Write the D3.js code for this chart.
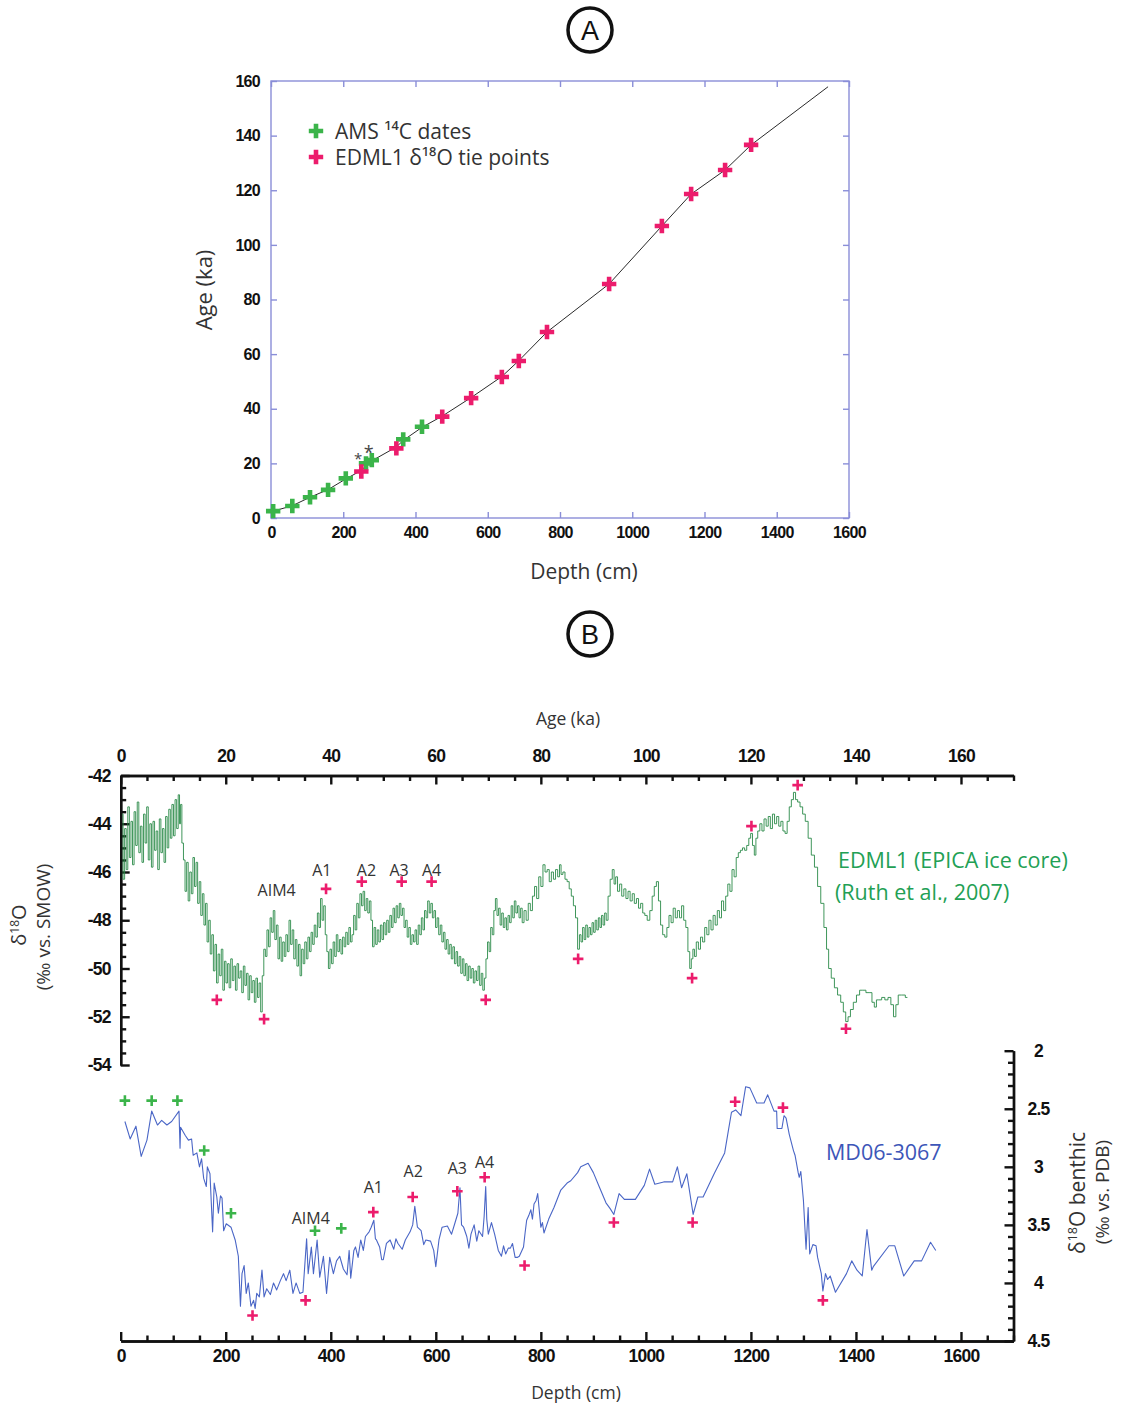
<!DOCTYPE html>
<html>
<head>
<meta charset="utf-8">
<script src="https://cdn.jsdelivr.net/npm/d3@7"></script>
<style>
  body { margin: 0; background: #fff; }
  svg { display: block; }
</style>
</head>
<body>
<svg id="chart" width="1122" height="1406"></svg>
<script>
// ---------------- Panel A: age-depth model ----------------
// AMS 14C dated levels (depth cm, age ka)
const amsDepth = [6, 59, 108, 158, 207, 263, 279, 366, 418];
const amsAge   = [2.5, 4.4, 7.6, 10.3, 14.5, 20.0, 21.2, 28.8, 33.4];
// AMS dates flagged with an asterisk
const flaggedDepth = [263, 279];
// EDML1 d18O tie points (depth cm, age ka)
const tieDepth = [250, 347, 474, 554, 639, 686, 764, 936, 1082, 1163, 1257, 1329];
const tieAge   = [17.0, 25.5, 37.1, 43.9, 51.6, 57.5, 68.1, 85.7, 106.9, 118.6, 127.4, 136.6];
// age model curve
const modelDepth = [6, 59, 108, 158, 207, 250, 272, 347, 366, 418, 474, 554, 639, 686, 764, 936, 1082, 1163, 1257, 1329, 1542];
const modelAge   = [2.5, 4.5, 7.6, 10.4, 14.3, 17.4, 20.4, 26.0, 28.4, 33.2, 37.3, 44.1, 51.8, 57.6, 68.1, 85.7, 106.9, 118.6, 127.4, 136.6, 157.9];
const ageTicksA   = [0, 20, 40, 60, 80, 100, 120, 140, 160];
const depthTicksA = [0, 200, 400, 600, 800, 1000, 1200, 1400, 1600];
const legendLabels = ["AMS \u00B9\u2074C dates", "EDML1 \u03B4\u00B9\u2078O tie points"];

// ---------------- Panel B: isotope records ----------------
// EDML1 ice core d18O (age ka, permil vs SMOW)
const edmlSeries = [
[0.3,-43.6],[0.6,-46.3],[0.9,-44.2],[1.2,-45.9],[1.5,-43.3],[1.8,-45.4],[2.1,-43.9],[2.4,-45.7],[2.7,-43.5],[3.0,-44.9],
[3.3,-43.1],[3.6,-45.2],[3.9,-44.1],[4.2,-45.6],[4.5,-43.6],[4.8,-44.8],[5.1,-43.3],[5.4,-45.5],[5.7,-44.0],[6.0,-45.8],
[6.3,-43.9],[6.6,-45.1],[6.9,-44.3],[7.2,-45.9],[7.5,-43.8],[7.8,-45.2],[8.1,-44.2],[8.4,-45.6],[8.7,-43.7],[9.0,-45.0],
[9.3,-43.4],[9.6,-44.6],[9.9,-43.2],[10.2,-44.5],[10.5,-43.0],[10.8,-44.2],[11.1,-42.8],[11.3,-44.0],[11.5,-43.2],[11.8,-44.8],
[12.1,-45.5],[12.4,-46.8],[12.7,-45.6],[13.0,-47.2],[13.3,-46.0],[13.6,-46.9],[13.9,-45.4],[14.2,-46.6],[14.5,-45.6],[14.8,-47.3],
[15.1,-46.4],[15.4,-47.8],[15.7,-46.9],[16.0,-48.2],[16.3,-47.3],[16.6,-48.9],[16.9,-48.0],[17.2,-49.4],[17.5,-48.6],[17.8,-50.1],
[18.1,-49.0],[18.4,-50.6],[18.7,-49.4],[19.0,-50.3],[19.3,-49.2],[19.6,-50.9],[19.9,-49.7],[20.2,-50.6],[20.5,-49.8],[20.8,-50.8],
[21.1,-49.6],[21.4,-50.5],[21.7,-49.9],[22.0,-50.9],[22.3,-49.8],[22.6,-50.4],[22.9,-50.1],[23.2,-51.0],[23.5,-49.9],[23.8,-50.7],
[24.1,-50.2],[24.4,-51.3],[24.7,-50.3],[25.0,-51.0],[25.3,-50.5],[25.6,-51.4],[25.9,-50.4],[26.2,-51.2],[26.5,-50.6],[26.8,-51.8],
[27.1,-50.3],[27.4,-49.2],[27.7,-49.5],[28.0,-48.4],[28.3,-49.1],[28.6,-47.9],[28.9,-48.5],[29.2,-47.6],[29.5,-48.8],[29.8,-48.2],
[30.1,-49.6],[30.4,-48.7],[30.7,-49.7],[31.0,-48.9],[31.3,-49.5],[31.6,-48.6],[31.9,-49.3],[32.2,-48.0],[32.5,-49.0],[32.8,-48.4],
[33.1,-49.6],[33.4,-48.8],[33.7,-49.9],[34.0,-49.0],[34.3,-50.3],[34.6,-49.2],[34.9,-49.8],[35.2,-48.9],[35.5,-49.6],[35.8,-48.7],
[36.1,-49.3],[36.4,-48.5],[36.7,-49.0],[37.0,-48.2],[37.3,-48.7],[37.6,-47.7],[37.9,-48.3],[38.2,-47.1],[38.5,-48.0],[38.8,-47.4],
[39.1,-48.6],[39.4,-49.3],[39.7,-50.0],[40.0,-49.2],[40.3,-49.8],[40.6,-48.9],[40.9,-49.5],[41.2,-48.6],[41.5,-49.3],[41.8,-48.8],
[42.1,-49.4],[42.4,-48.7],[42.7,-49.1],[43.0,-48.5],[43.3,-49.0],[43.6,-48.3],[43.9,-48.9],[44.2,-48.6],[44.5,-47.8],[44.8,-48.4],
[45.1,-47.3],[45.4,-47.9],[45.7,-46.9],[46.0,-47.4],[46.3,-46.8],[46.6,-47.6],[46.9,-47.1],[47.2,-47.7],[47.5,-47.2],[47.8,-48.0],
[48.1,-49.1],[48.4,-48.3],[48.7,-49.0],[49.0,-48.4],[49.3,-48.9],[49.6,-48.2],[49.9,-48.8],[50.2,-48.1],[50.5,-48.6],[50.8,-48.0],
[51.1,-48.5],[51.4,-47.8],[51.7,-48.3],[52.0,-47.5],[52.3,-48.1],[52.6,-47.4],[52.9,-47.9],[53.2,-47.3],[53.5,-47.8],[53.8,-47.5],
[54.1,-48.3],[54.4,-48.0],[54.7,-48.7],[55.0,-48.3],[55.3,-49.0],[55.6,-48.6],[55.9,-48.9],[56.2,-48.4],[56.5,-49.0],[56.8,-48.2],
[57.1,-48.6],[57.4,-47.9],[57.7,-48.4],[58.0,-47.6],[58.3,-47.9],[58.6,-47.2],[58.9,-47.7],[59.2,-47.3],[59.5,-47.9],[59.8,-47.6],
[60.1,-48.3],[60.4,-47.9],[60.7,-48.6],[61.0,-48.2],[61.3,-48.9],[61.6,-48.5],[61.9,-49.2],[62.2,-48.8],[62.5,-49.4],[62.8,-49.0],
[63.1,-49.6],[63.4,-49.1],[63.7,-49.8],[64.0,-49.3],[64.3,-49.9],[64.6,-49.5],[64.9,-50.2],[65.2,-49.6],[65.5,-50.3],[65.8,-49.8],
[66.1,-50.5],[66.4,-49.9],[66.7,-50.4],[67.0,-50.0],[67.3,-50.6],[67.6,-50.1],[67.9,-50.5],[68.2,-49.9],[68.5,-50.7],[68.8,-50.2],
[69.1,-50.9],[69.4,-50.4],[69.7,-49.6],[70.0,-48.9],[70.3,-49.3],[70.6,-48.3],[70.9,-48.6],[71.2,-47.6],[71.5,-47.1],[71.8,-47.8],
[72.1,-47.5],[72.4,-48.2],[72.7,-47.7],[73.0,-48.3],[73.3,-47.9],[73.6,-48.4],[73.9,-47.8],[74.2,-48.1],[74.5,-47.4],[74.8,-47.9],
[75.1,-47.2],[75.4,-47.7],[75.7,-47.4],[76.0,-47.9],[76.3,-47.5],[76.6,-48.1],[77.0,-47.6],[77.4,-48.0],[77.8,-47.3],[78.2,-47.6],
[78.6,-47.0],[79.0,-46.6],[79.4,-47.1],[79.8,-46.2],[80.2,-46.6],[80.6,-45.7],[81.0,-46.0],[81.4,-45.9],[81.8,-46.4],[82.2,-46.0],
[82.6,-46.3],[83.0,-45.9],[83.4,-46.2],[83.7,-45.7],[84.0,-46.1],[84.4,-46.0],[84.8,-46.3],[85.2,-46.4],[85.6,-46.7],[86.0,-47.0],
[86.4,-47.4],[86.8,-47.9],[87.2,-49.2],[87.5,-48.6],[87.8,-48.9],[88.1,-48.3],[88.4,-48.8],[88.7,-48.2],[89.0,-48.7],[89.3,-48.3],
[89.6,-48.6],[89.9,-48.1],[90.2,-48.5],[90.5,-48.0],[90.8,-48.4],[91.1,-47.9],[91.4,-48.3],[91.7,-47.8],[92.0,-48.2],[92.3,-47.7],
[92.6,-48.0],[93.0,-47.0],[93.4,-46.3],[93.8,-45.9],[94.1,-46.5],[94.4,-46.2],[94.8,-46.8],[95.2,-46.5],[95.6,-47.0],[96.0,-46.7],
[96.4,-47.1],[96.8,-46.8],[97.2,-47.2],[97.6,-46.9],[98.0,-47.3],[98.4,-47.1],[98.8,-47.5],[99.2,-47.3],[99.6,-47.7],[100.0,-47.8],
[100.5,-48.0],[101.0,-47.6],[101.4,-47.0],[101.8,-46.6],[102.2,-46.4],[102.6,-47.2],[103.0,-48.2],[103.4,-48.6],[103.8,-48.7],[104.2,-48.3],
[104.6,-47.8],[105.0,-48.1],[105.4,-47.5],[105.8,-47.9],[106.2,-47.6],[106.6,-47.9],[107.0,-47.4],[107.4,-48.0],[107.8,-48.3],[108.2,-49.3],
[108.5,-50.0],[108.8,-49.6],[109.1,-49.2],[109.4,-49.5],[109.8,-48.9],[110.2,-49.2],[110.6,-48.7],[111.0,-48.9],[111.4,-48.3],[111.8,-48.6],
[112.2,-48.0],[112.6,-48.4],[113.0,-47.8],[113.4,-48.2],[113.8,-47.6],[114.2,-47.9],[114.6,-47.2],[115.0,-47.6],[115.4,-47.0],[115.8,-46.5],
[116.2,-46.8],[116.6,-45.9],[117.0,-46.2],[117.4,-45.4],[117.8,-45.2],[118.2,-45.1],[118.6,-45.0],[119.0,-45.1],[119.4,-44.9],[119.8,-44.6],
[120.1,-44.4],[120.5,-44.9],[120.8,-45.3],[121.1,-44.6],[121.5,-44.3],[121.9,-44.0],[122.3,-44.3],[122.7,-43.8],[123.1,-44.1],[123.5,-43.7],
[123.9,-44.2],[124.3,-43.6],[124.7,-44.0],[125.1,-43.7],[125.5,-44.1],[125.9,-43.9],[126.3,-44.3],[126.7,-44.4],[127.1,-43.9],[127.5,-43.3],
[127.9,-43.0],[128.3,-42.7],[128.7,-43.0],[129.1,-43.1],[129.6,-43.3],[130.1,-43.6],[130.6,-43.9],[131.2,-44.6],[131.8,-45.3],[132.4,-45.8],
[133.0,-46.6],[133.6,-47.3],[134.2,-48.3],[134.6,-49.2],[135.0,-50.0],[135.6,-50.4],[136.2,-50.8],[136.8,-51.1],[137.4,-51.4],[137.8,-51.8],
[138.3,-52.2],[138.7,-52.0],[139.2,-51.7],[139.8,-51.4],[140.4,-51.1],[141.0,-50.9],[141.6,-50.9],[142.2,-51.0],[142.8,-51.0],[143.3,-51.4],
[143.7,-51.6],[144.1,-51.3],[144.6,-51.3],[145.2,-51.2],[145.8,-51.3],[146.4,-51.2],[146.9,-51.5],[147.4,-52.0],[147.8,-51.5],[148.3,-51.1],
[149.0,-51.1],[149.8,-51.2]
];
// EDML1 tie points marked on the ice-core record (age ka, d18O)
const edmlTieAge   = [18.3, 27.3, 39.1, 45.9, 53.5, 59.2, 69.5, 87.1, 108.8, 120.1, 128.9, 138.1];
const edmlTieValue = [-51.3, -52.1, -46.7, -46.4, -46.4, -46.4, -51.3, -49.6, -50.4, -44.1, -42.4, -52.5];
// Antarctic isotope maxima labelled on the ice-core record
const eventNames   = ["AIM4", "A1", "A2", "A3", "A4"];
const edmlEventAge = [29.7, 38.3, 46.8, 53.0, 59.2];
const edmlEventValue = [-46.75, -45.9, -45.9, -45.9, -45.9];

// MD06-3067 benthic d18O (depth cm, permil vs PDB)
const mdSeries = [
[8,2.61],[18,2.76],[29,2.65],[39,2.91],[50,2.77],[59,2.52],[70,2.64],[78,2.60],[88,2.64],[97,2.61],
[111,2.52],[113,2.84],[114,2.66],[123,2.73],[129,2.77],[135,2.76],[138,2.90],[145,2.88],[150,3.00],[154,2.93],
[158,3.10],[163,3.17],[165,3.00],[170,3.06],[175,3.56],[178,3.14],[183,3.26],[186,3.40],[190,3.25],[193,3.27],
[196,3.55],[201,3.49],[210,3.52],[218,3.63],[224,3.77],[228,4.20],[231,3.92],[235,3.85],[239,4.09],[243,4.00],
[248,4.20],[253,4.15],[256,4.22],[259,4.09],[264,4.12],[269,3.89],[273,4.12],[278,4.05],[285,4.10],[291,4.00],
[297,4.06],[304,3.98],[310,3.92],[315,3.98],[322,3.89],[328,4.09],[334,4.00],[341,4.09],[347,4.08],[354,3.62],
[357,3.92],[363,3.69],[367,3.92],[374,3.63],[379,3.95],[386,3.77],[392,4.09],[398,3.78],[405,3.92],[411,3.81],
[417,3.77],[424,3.88],[431,3.93],[435,3.72],[438,3.96],[444,3.72],[447,3.69],[452,3.78],[457,3.63],[462,3.72],
[466,3.60],[473,3.56],[477,3.52],[482,3.46],[485,3.62],[487,3.63],[493,3.69],[497,3.80],[500,3.80],[506,3.66],
[513,3.63],[520,3.71],[524,3.62],[528,3.66],[536,3.71],[542,3.63],[551,3.56],[556,3.50],[560,3.34],[565,3.52],
[572,3.55],[577,3.67],[581,3.63],[590,3.64],[596,3.72],[600,3.86],[606,3.63],[612,3.52],[622,3.51],[630,3.58],
[636,3.49],[642,3.40],[646,3.18],[649,3.50],[653,3.52],[659,3.60],[663,3.70],[667,3.58],[673,3.50],[678,3.64],
[682,3.55],[689,3.60],[692,3.43],[695,3.17],[697,3.45],[700,3.58],[706,3.48],[712,3.58],[716,3.66],[719,3.72],
[725,3.77],[729,3.68],[733,3.75],[738,3.70],[742,3.70],[746,3.66],[751,3.78],[755,3.78],[759,3.77],[764,3.72],
[767,3.69],[770,3.57],[773,3.46],[777,3.42],[781,3.37],[784,3.45],[787,3.32],[791,3.29],[794,3.23],[800,3.52],
[803,3.48],[806,3.57],[815,3.45],[825,3.35],[838,3.20],[850,3.14],[857,3.12],[870,3.05],[876,3.00],[890,2.97],
[900,3.05],[911,3.17],[924,3.31],[932,3.36],[939,3.41],[949,3.23],[959,3.28],[980,3.28],[997,3.16],[1007,3.02],
[1017,3.15],[1034,3.13],[1051,3.13],[1060,3.00],[1068,3.18],[1073,3.12],[1078,3.06],[1090,3.41],[1099,3.26],[1109,3.26],
[1130,3.06],[1150,2.88],[1157,2.69],[1163,2.53],[1171,2.51],[1181,2.56],[1190,2.31],[1198,2.32],[1211,2.45],[1225,2.45],
[1232,2.38],[1244,2.52],[1249,2.52],[1250,2.67],[1259,2.67],[1263,2.56],[1267,2.58],[1273,2.72],[1281,2.86],[1284,2.90],
[1290,3.05],[1292,3.09],[1295,3.04],[1300,3.29],[1305,3.71],[1309,3.35],[1312,3.75],[1318,3.67],[1324,3.68],[1327,3.78],
[1334,3.92],[1337,4.07],[1342,3.92],[1346,3.97],[1351,3.94],[1361,4.08],[1382,3.92],[1392,3.81],[1402,3.89],[1412,3.94],
[1421,3.54],[1430,3.89],[1433,3.86],[1463,3.68],[1474,3.68],[1491,3.94],[1511,3.81],[1525,3.81],[1542,3.65],[1552,3.72]
];
// tie points and AMS levels on the sediment record (depth cm, d18O)
const mdTieDepth = [251, 352, 481, 556, 641, 693, 769, 939, 1089, 1170, 1261, 1337];
const mdTieValue = [4.28, 4.15, 3.39, 3.26, 3.21, 3.09, 3.85, 3.48, 3.48, 2.44, 2.49, 4.15];
const mdAmsDepth = [8, 59, 108, 159, 210, 370, 420];
const mdAmsValue = [2.43, 2.43, 2.43, 2.86, 3.40, 3.55, 3.53];
const mdEventDepth = [362, 481, 557, 641, 693];
const mdEventValue = [3.44, 3.17, 3.04, 3.01, 2.96];

const ageTicksB   = [0, 20, 40, 60, 80, 100, 120, 140, 160];
const edmlTicks   = [-54, -52, -50, -48, -46, -44, -42];
const benthicTicks = [2, 2.5, 3, 3.5, 4, 4.5];
const depthTicksB = [0, 200, 400, 600, 800, 1000, 1200, 1400, 1600];

// ---------------- drawing ----------------
const svg = d3.select("#chart");
const numFont = "'Liberation Sans', Arial, Helvetica, sans-serif";
const textFont = "'Open Sans', 'Noto Sans', 'DejaVu Sans', sans-serif";
const GREEN_MARK = "#3bb44a";
const PINK_MARK = "#ec1c6c";
const zip = (a, b) => a.map((v, i) => [v, b[i]]);

function plus(sel, pts, xs, ys, arm, width, color) {
  sel.selectAll(null).data(pts).join("path")
    .attr("d", d => {
      const x = xs(d[0]), y = ys(d[1]);
      return `M${x - arm},${y}H${x + arm}M${x},${y - arm}V${y + arm}`;
    })
    .attr("stroke", color).attr("stroke-width", width).attr("fill", "none");
}

function badge(cx, cy, letter) {
  svg.append("circle").attr("cx", cx).attr("cy", cy).attr("r", 22)
    .attr("fill", "none").attr("stroke", "#111").attr("stroke-width", 3.5);
  svg.append("text").attr("x", cx).attr("y", cy + 9.5).attr("text-anchor", "middle")
    .attr("font-family", numFont).attr("font-size", 27).attr("fill", "#111").text(letter);
}

function styleAxis(g, color, width, size, letterSpacing) {
  g.attr("font-family", numFont).attr("font-size", size).attr("font-weight", "bold");
  g.select(".domain").attr("stroke", color).attr("stroke-width", width);
  g.selectAll(".tick line").attr("stroke", color).attr("stroke-width", width);
  g.selectAll(".tick text").attr("fill", "#111").attr("letter-spacing", letterSpacing);
}

badge(590, 30, "A");
badge(590, 634, "B");

// ---- Panel A ----
const xA = d3.scaleLinear().domain([0, 1600]).range([271, 849]);
const yA = d3.scaleLinear().domain([0, 160]).range([518, 81]);
const frameA = "#8a8ed8";

svg.append("rect").attr("x", xA(0)).attr("y", yA(160))
  .attr("width", xA(1600) - xA(0)).attr("height", yA(0) - yA(160))
  .attr("fill", "none").attr("stroke", frameA).attr("stroke-width", 1.4);

const axA = [
  svg.append("g").attr("transform", `translate(0,${yA(0)})`)
    .call(d3.axisBottom(xA).tickValues(depthTicksA).tickSize(-6).tickSizeOuter(0).tickPadding(9).tickFormat(d => d)),
  svg.append("g").attr("transform", `translate(${xA(0)},0)`)
    .call(d3.axisLeft(yA).tickValues(ageTicksA).tickSize(-6).tickSizeOuter(0).tickPadding(11).tickFormat(d => d)),
  svg.append("g").attr("transform", `translate(0,${yA(160)})`)
    .call(d3.axisTop(xA).tickValues(depthTicksA).tickSize(-6).tickSizeOuter(0).tickFormat("")),
  svg.append("g").attr("transform", `translate(${xA(1600)},0)`)
    .call(d3.axisRight(yA).tickValues(ageTicksA).tickSize(-6).tickSizeOuter(0).tickFormat(""))
];
axA.forEach(g => { styleAxis(g, frameA, 1.4, 16, "-0.7px"); g.select(".domain").remove(); });

svg.append("path").datum(zip(modelDepth, modelAge))
  .attr("d", d3.line().x(d => xA(d[0])).y(d => yA(d[1])))
  .attr("fill", "none").attr("stroke", "#2a2a2a").attr("stroke-width", 1);

plus(svg.append("g"), zip(amsDepth, amsAge), xA, yA, 7.2, 4.6, GREEN_MARK);
plus(svg.append("g"), zip(tieDepth, tieAge), xA, yA, 7.2, 4.6, PINK_MARK);

// asterisks over the flagged AMS dates
flaggedDepth.forEach((dep, i) => {
  const age = amsAge[amsDepth.indexOf(dep)];
  svg.append("text").attr("x", xA(dep) - 8 + i * 5).attr("y", yA(age) + 1 - i * 2)
    .attr("text-anchor", "middle").attr("font-family", textFont)
    .attr("font-size", 15 + i * 3).attr("fill", "#444").text("*");
});

// legend
const legendColors = [GREEN_MARK, PINK_MARK];
legendLabels.forEach((label, i) => {
  const cy = 131 + i * 26;
  plus(svg.append("g"), [[0, 0]], v => 316, v => cy, 7.2, 4.6, legendColors[i]);
  svg.append("text").attr("x", 335).attr("y", cy + 7.5)
    .attr("font-family", textFont).attr("font-size", 21).attr("fill", "#333").text(label);
});

svg.append("text").attr("transform", `translate(212,290) rotate(-90)`)
  .attr("text-anchor", "middle").attr("font-family", textFont).attr("font-size", 22)
  .attr("fill", "#333").text("Age (ka)");
svg.append("text").attr("x", 584).attr("y", 579).attr("text-anchor", "middle")
  .attr("font-family", textFont).attr("font-size", 21).attr("fill", "#333").text("Depth (cm)");

// ---- Panel B ----
const x0 = 120.7, x1 = 1013.5;
const ageB = d3.scaleLinear().domain([0, 170]).range([x0, x1]);
const depthB = d3.scaleLinear().domain([0, 1700]).range([x0, x1]);
const yTop = d3.scaleLinear().domain([-54, -42]).range([1065, 775.5]);
const yBot = d3.scaleLinear().domain([2, 4.5]).range([1050.7, 1341]);
const AX_W = 2.4;
const minor = (lo, hi, step, skip) => d3.range(lo, hi + step / 2, step).filter(v => Math.abs(v / skip - Math.round(v / skip)) > 1e-6);

// top age axis
let g = svg.append("g").attr("transform", `translate(0,${yTop(-42)})`)
  .call(d3.axisTop(ageB).tickValues(ageTicksB).tickSize(-9).tickSizeOuter(0).tickPadding(14).tickFormat(d => d));
styleAxis(g, "#111", AX_W, 17.5, "-0.8px");
g = svg.append("g").attr("transform", `translate(0,${yTop(-42)})`)
  .call(d3.axisTop(ageB).tickValues(minor(0, 170, 5, 20)).tickSize(-5.5).tickSizeOuter(0).tickFormat(""));
styleAxis(g, "#111", AX_W, 17.5, "0");

// left d18O axis (ice core)
g = svg.append("g").attr("transform", `translate(${x0},0)`)
  .call(d3.axisLeft(yTop).tickValues(edmlTicks).tickSize(-9).tickSizeOuter(0).tickPadding(10).tickFormat(d => String(d)));
styleAxis(g, "#111", AX_W, 17.5, "-0.8px");
g = svg.append("g").attr("transform", `translate(${x0},0)`)
  .call(d3.axisLeft(yTop).tickValues(minor(-54, -42, 0.5, 2)).tickSize(-5.5).tickSizeOuter(0).tickFormat(""));
styleAxis(g, "#111", AX_W, 17.5, "0");

// right benthic axis
g = svg.append("g").attr("transform", `translate(${x1},0)`)
  .call(d3.axisRight(yBot).tickValues(benthicTicks).tickSize(-9).tickSizeOuter(0).tickFormat(d => String(d)));
styleAxis(g, "#111", AX_W, 17.5, "-0.8px");
g.selectAll(".tick text").attr("text-anchor", "middle").attr("x", 25);
g = svg.append("g").attr("transform", `translate(${x1},0)`)
  .call(d3.axisRight(yBot).tickValues(minor(2, 4.5, 0.1, 0.5)).tickSize(-5.5).tickSizeOuter(0).tickFormat(""));
styleAxis(g, "#111", AX_W, 17.5, "0");

// bottom depth axis
g = svg.append("g").attr("transform", `translate(0,${yBot(4.5)})`)
  .call(d3.axisBottom(depthB).tickValues(depthTicksB).tickSize(-9).tickSizeOuter(0).tickPadding(9).tickFormat(d => d));
styleAxis(g, "#111", AX_W, 17.5, "-0.8px");
g = svg.append("g").attr("transform", `translate(0,${yBot(4.5)})`)
  .call(d3.axisBottom(depthB).tickValues(minor(0, 1700, 50, 200)).tickSize(-5.5).tickSizeOuter(0).tickFormat(""));
styleAxis(g, "#111", AX_W, 17.5, "0");

// records: the ice-core series is drawn as steps between samples
svg.append("path").datum(edmlSeries)
  .attr("d", d3.line().curve(d3.curveStep).x(d => ageB(d[0])).y(d => yTop(d[1])))
  .attr("fill", "none").attr("stroke", "#2a8a48").attr("stroke-width", 0.9);
svg.append("path").datum(mdSeries)
  .attr("d", d3.line().x(d => depthB(d[0])).y(d => yBot(d[1])))
  .attr("fill", "none").attr("stroke", "#4a66c6").attr("stroke-width", 1.1).attr("stroke-linejoin", "round");

plus(svg.append("g"), zip(edmlTieAge, edmlTieValue), ageB, yTop, 5.3, 2.6, PINK_MARK);
plus(svg.append("g"), zip(mdTieDepth, mdTieValue), depthB, yBot, 5.3, 2.6, PINK_MARK);
plus(svg.append("g"), zip(mdAmsDepth, mdAmsValue), depthB, yBot, 5.3, 2.6, GREEN_MARK);

// event labels
eventNames.forEach((name, i) => {
  svg.append("text").attr("x", ageB(edmlEventAge[i])).attr("y", yTop(edmlEventValue[i]) + 6)
    .attr("text-anchor", "middle").attr("font-family", textFont).attr("font-size", 16)
    .attr("fill", "#333").text(name);
  svg.append("text").attr("x", depthB(mdEventDepth[i])).attr("y", yBot(mdEventValue[i]) + 6)
    .attr("text-anchor", "middle").attr("font-family", textFont).attr("font-size", 16)
    .attr("fill", "#333").text(name);
});

// axis titles
svg.append("text").attr("x", 568).attr("y", 725).attr("text-anchor", "middle")
  .attr("font-family", textFont).attr("font-size", 17.5).attr("fill", "#333").text("Age (ka)");
svg.append("text").attr("x", 576).attr("y", 1399).attr("text-anchor", "middle")
  .attr("font-family", textFont).attr("font-size", 17.5).attr("fill", "#333").text("Depth (cm)");

function rotatedIso(cx, cy, before, after, size) {
  const t = svg.append("text").attr("transform", `translate(${cx},${cy}) rotate(-90)`)
    .attr("text-anchor", "middle").attr("font-family", textFont).attr("font-size", size).attr("fill", "#333");
  t.append("tspan").text(before);
  t.append("tspan").attr("font-size", "0.6em").attr("dy", "-0.6em").text("18");
  t.append("tspan").attr("dy", "0.36em").text(after);
  return t;
}
rotatedIso(26, 925, "δ", "O", 20);
svg.append("text").attr("transform", `translate(50,927) rotate(-90)`)
  .attr("text-anchor", "middle").attr("font-family", textFont).attr("font-size", 19)
  .attr("fill", "#333").text("(‰ vs. SMOW)");
rotatedIso(1085, 1193, "δ", "O benthic", 21);
svg.append("text").attr("transform", `translate(1109,1192) rotate(-90)`)
  .attr("text-anchor", "middle").attr("font-family", textFont).attr("font-size", 19)
  .attr("fill", "#333").text("(‰ vs. PDB)");

// series names
svg.append("text").attr("x", 838).attr("y", 868).attr("font-family", textFont)
  .attr("font-size", 21.5).attr("fill", "#22a054").text("EDML1 (EPICA ice core)");
svg.append("text").attr("x", 835).attr("y", 900).attr("font-family", textFont)
  .attr("font-size", 21.5).attr("fill", "#22a054").text("(Ruth et al., 2007)");
svg.append("text").attr("x", 826).attr("y", 1160).attr("font-family", textFont)
  .attr("font-size", 21.5).attr("fill", "#3d56b8").text("MD06-3067");
</script>
</body>
</html>
